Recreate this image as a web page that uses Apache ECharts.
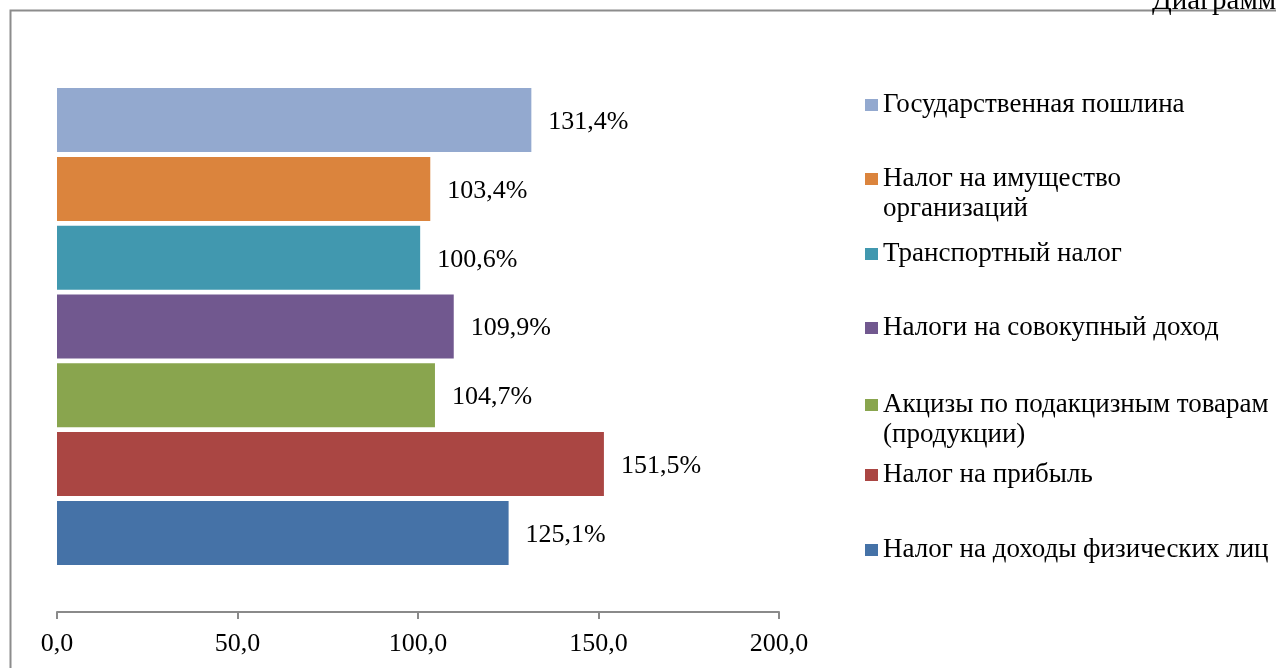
<!DOCTYPE html>
<html>
<head>
<meta charset="utf-8">
<script src="https://cdn.jsdelivr.net/npm/echarts@6/dist/echarts.min.js"></script>
<style>
    html, body { margin: 0; padding: 0; background: #fff; }
    #chart { width: 1276px; height: 668px; }
</style>
</head>
<body>
<div id="chart"></div>
<script>
// legend order, top to bottom
var taxNames = [
    'Государственная пошлина',
    'Налог на имущество организаций',
    'Транспортный налог',
    'Налоги на совокупный доход',
    'Акцизы по подакцизным товарам (продукции)',
    'Налог на прибыль',
    'Налог на доходы физических лиц'
];
var legendLabels = [
    'Государственная пошлина',
    'Налог на имущество\nорганизаций',
    'Транспортный налог',
    'Налоги на совокупный доход',
    'Акцизы по подакцизным товарам\n(продукции)',
    'Налог на прибыль',
    'Налог на доходы физических лиц'
];
var growthValues = [131.4, 103.4, 100.6, 109.9, 104.7, 151.5, 125.1];
var barColors = ['#93A9CF', '#DB843D', '#4198AF', '#71588F', '#89A54E', '#AA4643', '#4572A7'];
var xMin = 0, xMax = 200, xStep = 50;

var FONT = '"Liberation Serif", "Times New Roman", serif';

function fmt1(v) {
    return v.toFixed(1).replace('.', ',');
}

var chartBox = document.getElementById('chart');
var myChart = echarts.init(chartBox);

// icon centres of the legend entries
var legendCenters = [105, 179, 254, 328, 405, 475, 550];

var series = [];
var legends = [];
taxNames.forEach(function (name, i) {
    series.push({
        name: name,
        type: 'bar',
        barWidth: 64,
        barGap: '7.5%',
        itemStyle: { color: barColors[i] },
        label: {
            show: true,
            position: 'right',
            distance: 17,
            offset: [0, 2],
            color: '#000',
            fontFamily: FONT,
            fontSize: 26,
            formatter: function (p) { return fmt1(p.value) + '%'; }
        },
        data: [growthValues[i]]
    });
    var twoLines = legendLabels[i].indexOf('\n') >= 0;
    legends.push({
        orient: 'vertical',
        left: 865,
        top: legendCenters[i] - (twoLines ? 45 : 15),
        padding: 0,
        itemWidth: 13,
        itemHeight: 12,
        icon: 'rect',
        selectedMode: false,
        data: [name],
        formatter: function () {
            // empty first line keeps the icon beside the first text line
            return twoLines ? '\n' + legendLabels[i] : legendLabels[i];
        },
        textStyle: {
            color: '#000',
            fontFamily: FONT,
            fontSize: 27,
            lineHeight: 30
        }
    });
});

var option = {
    backgroundColor: '#fff',
    animation: false,
    grid: {
        left: 57,
        right: 497,
        top: 41,
        bottom: 56,
        containLabel: false
    },
    xAxis: {
        type: 'value',
        min: xMin,
        max: xMax,
        interval: xStep,
        splitLine: { show: false },
        axisLine: { show: true, lineStyle: { color: '#8a8a8a', width: 2 } },
        axisTick: { show: true, length: 7, lineStyle: { color: '#8a8a8a', width: 2 } },
        axisLabel: {
            color: '#000',
            fontFamily: FONT,
            fontSize: 26,
            margin: 19,
            formatter: function (v) { return fmt1(v); }
        }
    },
    yAxis: {
        type: 'category',
        data: [''],
        axisLine: { show: false },
        axisTick: { show: false },
        axisLabel: { show: false }
    },
    legend: legends,
    series: series,
    graphic: [
        {
            type: 'rect',
            shape: { x: 10.5, y: 10.5, width: 1400, height: 800 },
            style: { fill: 'none', stroke: '#8c8c8c', lineWidth: 2 },
            silent: true
        },
        {
            type: 'text',
            x: 1152,
            y: 1,
            style: {
                text: 'Диаграмма',
                fill: '#000',
                font: '29px ' + FONT,
                verticalAlign: 'middle'
            },
            silent: true
        }
    ]
};
myChart.setOption(option);
</script>
</body>
</html>
